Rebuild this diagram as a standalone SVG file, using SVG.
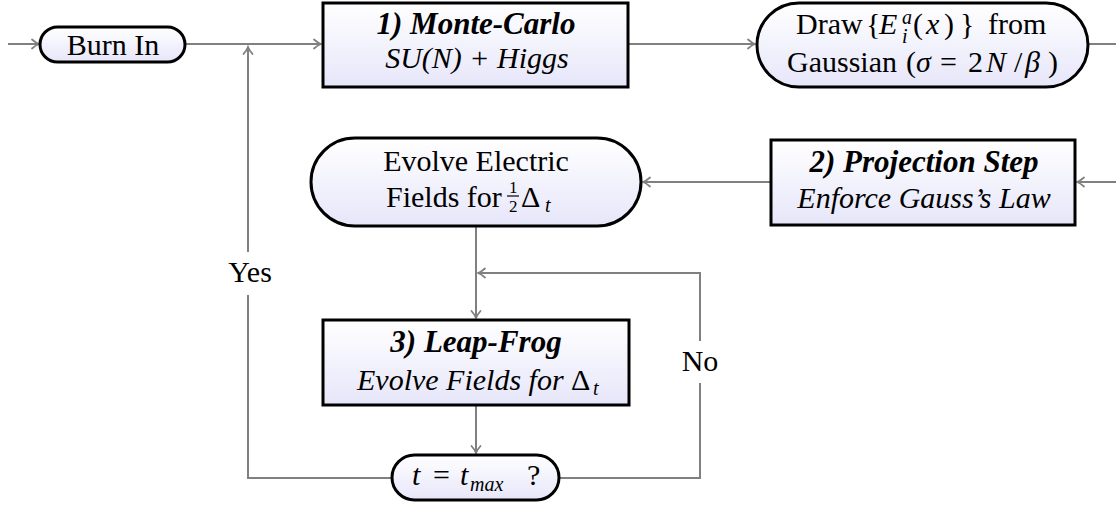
<svg xmlns="http://www.w3.org/2000/svg" width="1116" height="506" viewBox="0 0 1116 506" xml:lang="en" font-family="Liberation Serif, serif">
<style>
.node{stroke:#000;stroke-width:3;fill:url(#g)}
.conn{stroke:#808080;stroke-width:2;fill:none}
.arr{marker-end:url(#ah)}
text{font-family:'Liberation Serif',serif;font-size:30px;fill:#000}
.i{font-style:italic}
.bi{font-style:italic;font-weight:bold;font-size:31px}
.s{font-size:20px}
.f{font-size:17px}
</style>
<defs>
<linearGradient id="g" x1="0" y1="0" x2="0" y2="1">
<stop offset="0" stop-color="#ffffff"/>
<stop offset="1" stop-color="#e6e6fa"/>
</linearGradient>
<marker id="ah" markerUnits="userSpaceOnUse" markerWidth="14" markerHeight="14" viewBox="-10 -7 12 14" refX="0" refY="0" orient="auto">
<path d="M-7,-4.5 Q-3,-1 0,0 Q-3,1 -7,4.5" stroke="#808080" stroke-width="1.8" fill="none" stroke-linecap="round"/>
</marker>
</defs>

<g id="connectors">
<path class="conn arr" d="M8,44 H39"/>
<path class="conn arr" d="M185,44 H321"/>
<path class="conn arr" d="M628,44 H755"/>
<path class="conn arr" d="M1088,44 H1130 V182 H1077"/>
<path class="conn arr" d="M771,182 H643"/>
<path class="conn arr" d="M476,226 V318"/>
<path class="conn arr" d="M476,405 V453"/>
<path class="conn" d="M559,478 H700 V383"/>
<path class="conn arr" d="M700,341 V273 H478"/>
<path class="conn" d="M392,478 H248 V295"/>
<path class="conn arr" d="M248,252 V47"/>
</g>

<g id="burn-in">
<rect class="node" x="40" y="27" width="145" height="35" rx="17.5" ry="17.5"/>
<text style="font-family:'Liberation Serif'" x="113" y="55" text-anchor="middle">Burn In</text>
</g>

<g id="monte-carlo">
<rect class="node" x="323" y="3" width="305" height="84"/>
<text style="font-family:'Liberation Serif'" class="bi" x="476" y="34" text-anchor="middle">1) Monte-Carlo</text>
<text style="font-family:'Liberation Serif'" class="i" x="477" y="68" text-anchor="middle">SU(N) + Higgs</text>
</g>

<g id="draw-gaussian">
<rect class="node" x="757" y="3" width="331" height="84" rx="42" ry="42"/>
<text style="font-family:'Liberation Serif'" x="796" y="34">Draw</text>
<text style="font-family:'Liberation Serif'" x="866" y="34">{</text>
<text style="font-family:'Liberation Serif'" class="i" x="879" y="34">E</text>
<text style="font-family:'Liberation Serif'" class="i s" x="902" y="24">a</text>
<text style="font-family:'Liberation Serif'" class="i s" x="902" y="43">i</text>
<text style="font-family:'Liberation Serif'" x="913" y="34">(</text>
<text style="font-family:'Liberation Serif'" class="i" x="926" y="34">x</text>
<text style="font-family:'Liberation Serif'" x="944" y="34">)</text>
<text style="font-family:'Liberation Serif'" x="960" y="34">}</text>
<text style="font-family:'Liberation Serif'" x="988" y="34">from</text>
<text style="font-family:'Liberation Serif'" x="787" y="72">Gaussian</text>
<text style="font-family:'Liberation Serif'" x="906" y="72">(</text>
<text style="font-family:'Liberation Serif'" class="i" x="916" y="72">σ</text>
<text style="font-family:'Liberation Serif'" x="940" y="72">=</text>
<text style="font-family:'Liberation Serif'" x="968" y="72">2</text>
<text style="font-family:'Liberation Serif'" class="i" x="986" y="72">N</text>
<text style="font-family:'Liberation Serif'" x="1014" y="72">/</text>
<text style="font-family:'Liberation Serif'" class="i" x="1025" y="72">β</text>
<text style="font-family:'Liberation Serif'" x="1048" y="72">)</text>
</g>

<g id="projection">
<rect class="node" x="771" y="140" width="304" height="85"/>
<text style="font-family:'Liberation Serif'" class="bi" x="924" y="172" text-anchor="middle">2) Projection Step</text>
<text style="font-family:'Liberation Serif'" class="i" x="924" y="208" text-anchor="middle">Enforce Gauss’s Law</text>
</g>

<g id="evolve-electric">
<rect class="node" x="311" y="138" width="330" height="88" rx="44" ry="44"/>
<text style="font-family:'Liberation Serif'" x="476" y="171" text-anchor="middle">Evolve Electric</text>
<text style="font-family:'Liberation Serif'" x="386" y="207">Fields for</text>
<text style="font-family:'Liberation Serif'" class="f" x="509" y="193">1</text>
<line x1="507" y1="196" x2="519" y2="196" stroke="#000" stroke-width="1.2"/>
<text style="font-family:'Liberation Serif'" class="f" x="509" y="212">2</text>
<text style="font-family:'Liberation Serif'" x="521" y="207">Δ</text>
<text style="font-family:'Liberation Serif'" class="i s" x="545" y="212">t</text>
</g>

<g id="leap-frog">
<rect class="node" x="323" y="320" width="306" height="85"/>
<text style="font-family:'Liberation Serif'" class="bi" x="476" y="352" text-anchor="middle">3) Leap-Frog</text>
<text style="font-family:'Liberation Serif'" class="i" x="357" y="390">Evolve Fields for</text>
<text style="font-family:'Liberation Serif'" x="571" y="390">Δ</text>
<text style="font-family:'Liberation Serif'" class="i s" x="593" y="395">t</text>
</g>

<g id="t-max">
<rect class="node" x="392" y="455" width="167" height="45" rx="22.5" ry="22.5"/>
<text style="font-family:'Liberation Serif'" class="i" x="412" y="485">t</text>
<text style="font-family:'Liberation Serif'" x="433" y="485">=</text>
<text style="font-family:'Liberation Serif'" class="i" x="460" y="485">t</text>
<text style="font-family:'Liberation Serif'" class="i s" x="470" y="491">max</text>
<text style="font-family:'Liberation Serif'" x="527" y="485">?</text>
</g>

<g id="labels">
<text style="font-family:'Liberation Serif'" x="250" y="282" text-anchor="middle">Yes</text>
<text style="font-family:'Liberation Serif'" x="700" y="371" text-anchor="middle">No</text>
</g>
</svg>
